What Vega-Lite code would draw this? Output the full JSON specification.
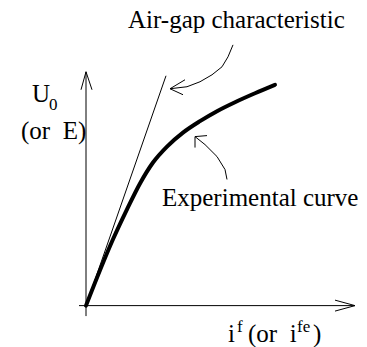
{
  "$schema": "https://vega.github.io/schema/vega-lite/v6.json",
  "width": 367,
  "height": 347,
  "autosize": {"type": "fit", "contains": "padding"},
  "padding": 0,
  "background": "white",
  "config": {"view": {"stroke": null}},
  "datasets": {
    "strokes": [
      {"part": "yaxis", "i": 0, "x": 0, "y": -1.05},
      {"part": "yaxis", "i": 1, "x": 0, "y": 23.45},
      {"part": "yhead", "i": 0, "x": -0.5, "y": 21.65},
      {"part": "yhead", "i": 1, "x": 0, "y": 23.45},
      {"part": "yhead", "i": 2, "x": 0.6, "y": 21.65},
      {"part": "xaxis", "i": 0, "x": -0.7, "y": 0},
      {"part": "xaxis", "i": 1, "x": 26.9, "y": 0},
      {"part": "xhead", "i": 0, "x": 24.9, "y": 0.55},
      {"part": "xhead", "i": 1, "x": 26.9, "y": 0},
      {"part": "xhead", "i": 2, "x": 24.9, "y": -0.55},
      {"part": "airgap", "i": 0, "x": 0, "y": 0},
      {"part": "airgap", "i": 1, "x": 8.0, "y": 23.05},
      {"part": "pointer1", "i": 0, "x": 14.7, "y": 26.15},
      {"part": "pointer1", "i": 1, "x": 14.2, "y": 24.95},
      {"part": "pointer1", "i": 2, "x": 13.6, "y": 23.95},
      {"part": "pointer1", "i": 3, "x": 12.6, "y": 23.15},
      {"part": "pointer1", "i": 4, "x": 11.4, "y": 22.45},
      {"part": "pointer1", "i": 5, "x": 10.1, "y": 21.95},
      {"part": "pointer1", "i": 6, "x": 8.4, "y": 21.75},
      {"part": "head1", "i": 0, "x": 9.9, "y": 22.65},
      {"part": "head1", "i": 1, "x": 8.4, "y": 21.75},
      {"part": "head1", "i": 2, "x": 9.7, "y": 21.15},
      {"part": "pointer2", "i": 0, "x": 14.1, "y": 12.65},
      {"part": "pointer2", "i": 1, "x": 13.9, "y": 13.65},
      {"part": "pointer2", "i": 2, "x": 13.1, "y": 14.95},
      {"part": "pointer2", "i": 3, "x": 11.9, "y": 16.15},
      {"part": "pointer2", "i": 4, "x": 10.9, "y": 16.95},
      {"part": "head2", "i": 0, "x": 12.1, "y": 17.05},
      {"part": "head2", "i": 1, "x": 10.9, "y": 16.95},
      {"part": "head2", "i": 2, "x": 10.9, "y": 15.85}
    ],
    "curve": [
      {"i": 0, "x": 0, "y": 0},
      {"i": 1, "x": 2.7, "y": 6.65},
      {"i": 2, "x": 4.1, "y": 9.65},
      {"i": 3, "x": 5.4, "y": 12.25},
      {"i": 4, "x": 6.7, "y": 14.35},
      {"i": 5, "x": 8.1, "y": 15.95},
      {"i": 6, "x": 9.7, "y": 17.35},
      {"i": 7, "x": 11.4, "y": 18.5},
      {"i": 8, "x": 13.1, "y": 19.5},
      {"i": 9, "x": 14.9, "y": 20.4},
      {"i": 10, "x": 16.9, "y": 21.3},
      {"i": 11, "x": 18.9, "y": 22.15}
    ],
    "labels": [
      {"kind": "main", "text": "Air-gap characteristic", "x": 4.2, "y": 27.85},
      {"kind": "main", "text": "U", "x": -5.4, "y": 20.45},
      {"kind": "script", "text": "0", "x": -3.7, "y": 19.65},
      {"kind": "main", "text": "(or\u00a0 E)", "x": -6.5, "y": 16.75},
      {"kind": "main", "text": "Experimental curve", "x": 7.6, "y": 9.95},
      {"kind": "main", "text": "i", "x": 14.2, "y": -3.65},
      {"kind": "script", "text": "f", "x": 15.1, "y": -2.65},
      {"kind": "main", "text": "(or\u00a0 i", "x": 16.2, "y": -3.65},
      {"kind": "script", "text": "fe", "x": 21.1, "y": -2.65},
      {"kind": "main", "text": ")", "x": 22.7, "y": -3.65}
    ]
  },
  "layer": [
    {
      "data": {"name": "strokes"},
      "mark": {"type": "line", "color": "black", "strokeWidth": 1, "interpolate": "linear"},
      "encoding": {
        "x": {"field": "x", "type": "quantitative", "scale": {"domain": [-8.6, 28.1], "nice": false, "zero": false}, "axis": null},
        "y": {"field": "y", "type": "quantitative", "scale": {"domain": [-4.05, 30.65], "nice": false, "zero": false}, "axis": null},
        "detail": {"field": "part"},
        "order": {"field": "i", "type": "quantitative"}
      }
    },
    {
      "data": {"name": "curve"},
      "mark": {"type": "line", "color": "black", "strokeWidth": 4, "interpolate": "monotone", "strokeCap": "round"},
      "encoding": {
        "x": {"field": "x", "type": "quantitative", "axis": null},
        "y": {"field": "y", "type": "quantitative", "axis": null},
        "order": {"field": "i", "type": "quantitative"}
      }
    },
    {
      "data": {"name": "labels"},
      "transform": [{"filter": "datum.kind === 'main'"}],
      "mark": {"type": "text", "font": "'Liberation Serif', 'Times New Roman', Times, serif", "fontSize": 25, "align": "left", "baseline": "alphabetic", "color": "black"},
      "encoding": {
        "x": {"field": "x", "type": "quantitative", "axis": null},
        "y": {"field": "y", "type": "quantitative", "axis": null},
        "text": {"field": "text"}
      }
    },
    {
      "data": {"name": "labels"},
      "transform": [{"filter": "datum.kind === 'script'"}],
      "mark": {"type": "text", "font": "'Liberation Serif', 'Times New Roman', Times, serif", "fontSize": 17, "align": "left", "baseline": "alphabetic", "color": "black"},
      "encoding": {
        "x": {"field": "x", "type": "quantitative", "axis": null},
        "y": {"field": "y", "type": "quantitative", "axis": null},
        "text": {"field": "text"}
      }
    }
  ]
}
